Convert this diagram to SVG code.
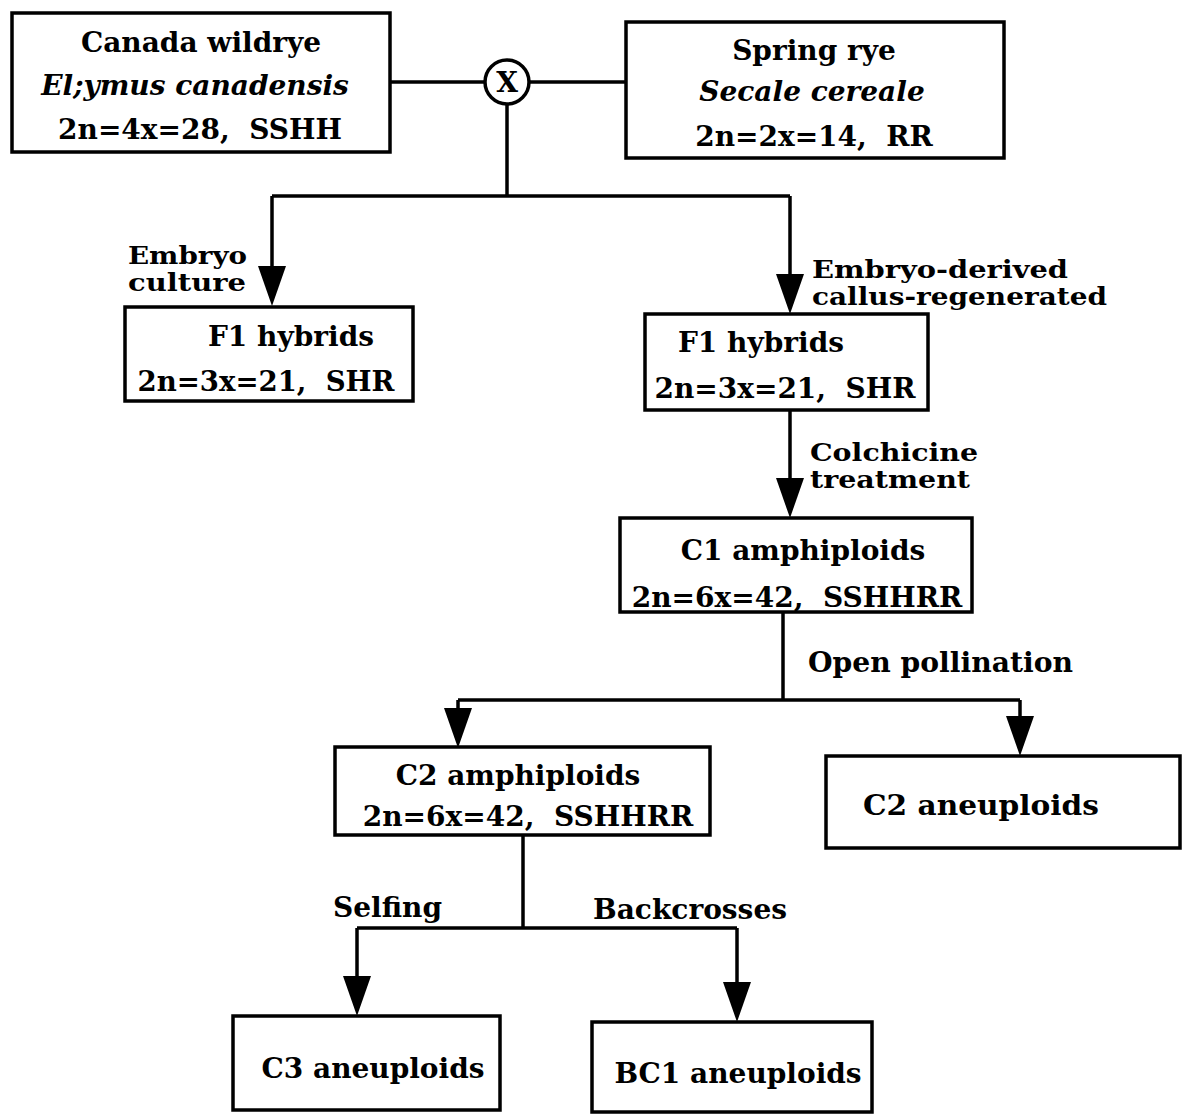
<svg xmlns="http://www.w3.org/2000/svg" width="1184" height="1116" viewBox="0 0 1184 1116">
<defs>
<style>
.box{fill:#fff;stroke:#000;stroke-width:3.5}
.t{font-family:"DejaVu Serif","Liberation Serif",serif;font-weight:bold;font-size:28px;fill:#000}
.i{font-style:italic}
.m{text-anchor:middle}
.lbl{font-family:"DejaVu Serif","Liberation Serif",serif;font-weight:bold;font-size:24px;fill:#000}
.c{fill:none;stroke:#000;stroke-width:3.5}
</style>
</defs>
<rect width="1184" height="1116" fill="#fff"/>
<g id="connectors">
<path class="c" d="M390,82 L485,82"/>
<path class="c" d="M529,82 L626,82"/>
<path class="c" d="M507,104 L507,196"/>
<path class="c" d="M272,196 L790,196"/>
<path class="c" d="M272,196 L272,268"/>
<path d="M258,266 L286,266 L272,306 Z"/>
<path class="c" d="M790,196 L790,276"/>
<path d="M776,274 L804,274 L790,314 Z"/>
<path class="c" d="M790,410 L790,480"/>
<path d="M776,478 L804,478 L790,518 Z"/>
<path class="c" d="M783,612 L783,700"/>
<path class="c" d="M458,700 L1020,700"/>
<path class="c" d="M458,700 L458,712"/>
<path d="M444,708 L472,708 L458,748 Z"/>
<path class="c" d="M1020,700 L1020,720"/>
<path d="M1006,716 L1034,716 L1020,756 Z"/>
<path class="c" d="M523,835 L523,928"/>
<path class="c" d="M357,928 L737,928"/>
<path class="c" d="M357,928 L357,980"/>
<path d="M343,976 L371,976 L357,1016 Z"/>
<path class="c" d="M737,928 L737,986"/>
<path d="M723,982 L751,982 L737,1022 Z"/>
<text class="lbl" x="128" y="264" textLength="119" lengthAdjust="spacingAndGlyphs">Embryo</text>
<text class="lbl" x="128" y="291" textLength="118" lengthAdjust="spacingAndGlyphs">culture</text>
<text class="lbl" x="812" y="278" textLength="256" lengthAdjust="spacingAndGlyphs">Embryo-derived</text>
<text class="lbl" x="812" y="305" textLength="295" lengthAdjust="spacingAndGlyphs">callus-regenerated</text>
<text class="lbl" x="810" y="461" textLength="168" lengthAdjust="spacingAndGlyphs">Colchicine</text>
<text class="lbl" x="810" y="488" textLength="160" lengthAdjust="spacingAndGlyphs">treatment</text>
<text class="t" x="808" y="672" textLength="265" lengthAdjust="spacingAndGlyphs">Open pollination</text>
<text class="t" x="333" y="917">Selfing</text>
<text class="t" x="593" y="919" textLength="194" lengthAdjust="spacingAndGlyphs">Backcrosses</text>
</g>
<g id="cross">
<circle cx="507" cy="82" r="22" fill="#fff" stroke="#000" stroke-width="3.5"/>
<text class="t m" x="507" y="92" font-size="27">X</text>
</g>
<g id="canada">
<rect class="box" x="12" y="13" width="378" height="139"/>
<text class="t m" x="201" y="52">Canada wildrye</text>
<text class="t m i" x="195" y="95">El;ymus canadensis</text>
<text class="t m" x="200" y="139" xml:space="preserve">2n=4x=28,  SSHH</text>
</g>
<g id="springrye">
<rect class="box" x="626" y="22" width="378" height="136"/>
<text class="t m" x="814" y="60">Spring rye</text>
<text class="t m i" x="812" y="101">Secale cereale</text>
<text class="t m" x="814" y="146" xml:space="preserve">2n=2x=14,  RR</text>
</g>
<g id="f1-left">
<rect class="box" x="125" y="307" width="288" height="94"/>
<text class="t m" x="291" y="346">F1 hybrids</text>
<text class="t m" x="266" y="391" xml:space="preserve" textLength="257" lengthAdjust="spacingAndGlyphs">2n=3x=21,  SHR</text>
</g>
<g id="f1-right">
<rect class="box" x="645" y="314" width="283" height="96"/>
<text class="t m" x="761" y="352">F1 hybrids</text>
<text class="t m" x="785" y="398" xml:space="preserve">2n=3x=21,  SHR</text>
</g>
<g id="c1">
<rect class="box" x="620" y="518" width="352" height="94"/>
<text class="t m" x="803" y="560">C1 amphiploids</text>
<text class="t m" x="797" y="607" xml:space="preserve">2n=6x=42,  SSHHRR</text>
</g>
<g id="c2-amph">
<rect class="box" x="335" y="747" width="375" height="88"/>
<text class="t m" x="518" y="785">C2 amphiploids</text>
<text class="t m" x="528" y="826" xml:space="preserve">2n=6x=42,  SSHHRR</text>
</g>
<g id="c2-aneu">
<rect class="box" x="826" y="756" width="354" height="92"/>
<text class="t m" x="981" y="815" textLength="236" lengthAdjust="spacingAndGlyphs">C2 aneuploids</text>
</g>
<g id="c3">
<rect class="box" x="233" y="1016" width="267" height="94"/>
<text class="t m" x="373" y="1078">C3 aneuploids</text>
</g>
<g id="bc1">
<rect class="box" x="592" y="1022" width="280" height="90"/>
<text class="t m" x="738" y="1083">BC1 aneuploids</text>
</g>
</svg>
